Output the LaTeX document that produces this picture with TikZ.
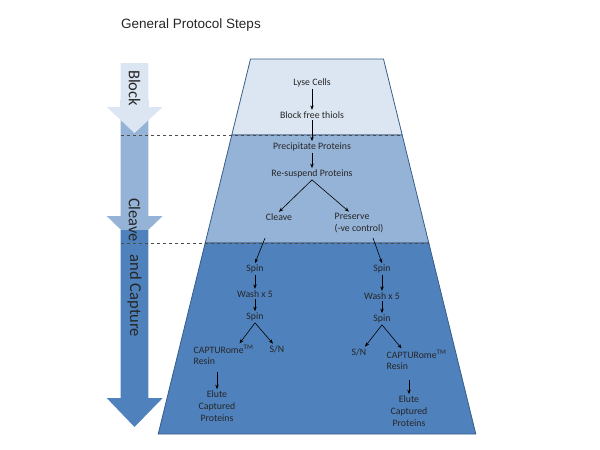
\documentclass[tikz,border=0pt]{standalone}
\usepackage{fontspec}
\setmainfont{Carlito}
\newfontfamily\titlefont{Liberation Sans}
\usetikzlibrary{arrows.meta}
\definecolor{paleblue}{HTML}{DCE6F2}
\definecolor{midblue}{HTML}{95B3D7}
\definecolor{deepblue}{HTML}{4F81BD}
\definecolor{edgeblue}{HTML}{385D8A}

\begin{document}
\begin{tikzpicture}[x=1pt,y=-1pt,
    lbl/.style={font=\fontsize{9.8}{11.7}\selectfont, text=black!85, inner sep=1.5pt, align=center},
    flow/.style={-{Stealth[length=4.5pt,width=3.5pt]}, black, line width=0.6pt},
    phase/.style={font=\fontsize{16.5}{18}\selectfont, rotate=-90, text=black!85},
    stage/.style={draw=edgeblue, line width=0.8pt}]
      \useasboundingbox (0,0) rectangle (600,450);

      \node[font=\titlefont\fontsize{13.5}{16}\selectfont, text=black!85, anchor=west, inner sep=0pt] (title) at (121,25) {General Protocol Steps};

      % arrows on the left
      \fill[midblue] (120.7,100) -- (148.3,100) -- (148.3,216) -- (162.7,216) -- (134.5,243) -- (106.7,216) -- (120.7,216) -- cycle;
      \fill[paleblue] (120.7,63) -- (148.3,63) -- (148.3,107) -- (162.7,107) -- (134.5,133) -- (106.7,107) -- (120.7,107) -- cycle;
      \fill[deepblue] (120.7,230) -- (148.3,230) -- (148.3,398) -- (162.7,398) -- (134.5,427) -- (106.7,398) -- (120.7,398) -- cycle;

      % the three stages
      \draw[stage, fill=paleblue] (250.5,59) -- (383.5,59) -- (402.2,135) -- (231.8,135) -- cycle;
      \draw[stage, fill=midblue] (231.8,135) -- (402.2,135) -- (428.8,243) -- (205.2,243) -- cycle;
      \draw[stage, fill=deepblue] (205.2,243) -- (428.8,243) -- (475.8,434) -- (158.2,434) -- cycle;

      \draw[dashed, black!70, thin] (121,135) -- (402.2,135);
      \draw[dashed, black!70, thin] (121,243) -- (428.8,243);

      \node[phase] (blk) at (134.5,88) {Block};
      \node[phase] (clv) at (134.5,220) {Cleave};
      \node[phase] (cap) at (134.5,296) {and Capture};

      \node[lbl] (lyse) at (312,83) {Lyse Cells};
      \node[lbl] (thiol) at (312,115) {Block free thiols};
      \node[lbl] (precip) at (312,147) {Precipitate Proteins};
      \node[lbl] (resus) at (312,174) {Re-suspend Proteins};
      \node[lbl] (cleave) at (279,217) {Cleave};
      \node[lbl, align=left, anchor=west] (preserve) at (333,223) {Preserve\\(-ve control)};

      \draw[flow] (lyse) -- (thiol);
      \draw[flow] (thiol) -- (precip);
      \draw[flow] (precip) -- (resus);
      \draw[flow] (resus.south) -- (cleave.north);
      \draw[flow] (resus.south) -- ([xshift=-10pt]preserve.north);

      \node[lbl] (spinL) at (255,269) {Spin};
      \node[lbl] (washL) at (255,294) {Wash x 5};
      \node[lbl] (spinLL) at (255,317) {Spin};
      \node[lbl, align=left, anchor=west] (capL) at (192,355) {CAPTURome\textsuperscript{TM}\\Resin};
      \node[lbl] (snL) at (277,349) {S/N};
      \node[lbl] (eluteL) at (217,406) {Elute\\Captured\\Proteins};

      \node[lbl] (spinR) at (382,269) {Spin};
      \node[lbl] (washR) at (382,296) {Wash x 5};
      \node[lbl] (spinRR) at (382,319) {Spin};
      \node[lbl] (snR) at (359,352) {S/N};
      \node[lbl, align=left, anchor=west] (capR) at (385,360) {CAPTURome\textsuperscript{TM}\\Resin};
      \node[lbl] (eluteR) at (409,411) {Elute\\Captured\\Proteins};

      \draw[flow] ([xshift=-14pt,yshift=-16pt]cleave.south) -- (spinL.north);
      \draw[flow] ([xshift=14pt,yshift=-3.5pt]preserve.south) -- (spinR.north);

      \draw[flow] (spinL) -- (washL);
      \draw[flow] (washL) -- (spinLL);
      \draw[flow] (spinLL.south) -- ([xshift=16pt]capL.north);
      \draw[flow] (spinLL.south) -- ([xshift=-4pt]snL.north);
      \draw[flow, shorten <=5pt] (eluteL.north |- capL.south) -- (eluteL.north);

      \draw[flow] (spinR) -- (washR);
      \draw[flow] (washR) -- (spinRR);
      \draw[flow] (spinRR.south) -- ([xshift=6pt]snR.north);
      \draw[flow] (spinRR.south) -- ([xshift=-15pt]capR.north);
      \draw[flow, shorten <=8pt] (eluteR.north |- capR.south) -- (eluteR.north);
    \end{tikzpicture}
\end{document}
